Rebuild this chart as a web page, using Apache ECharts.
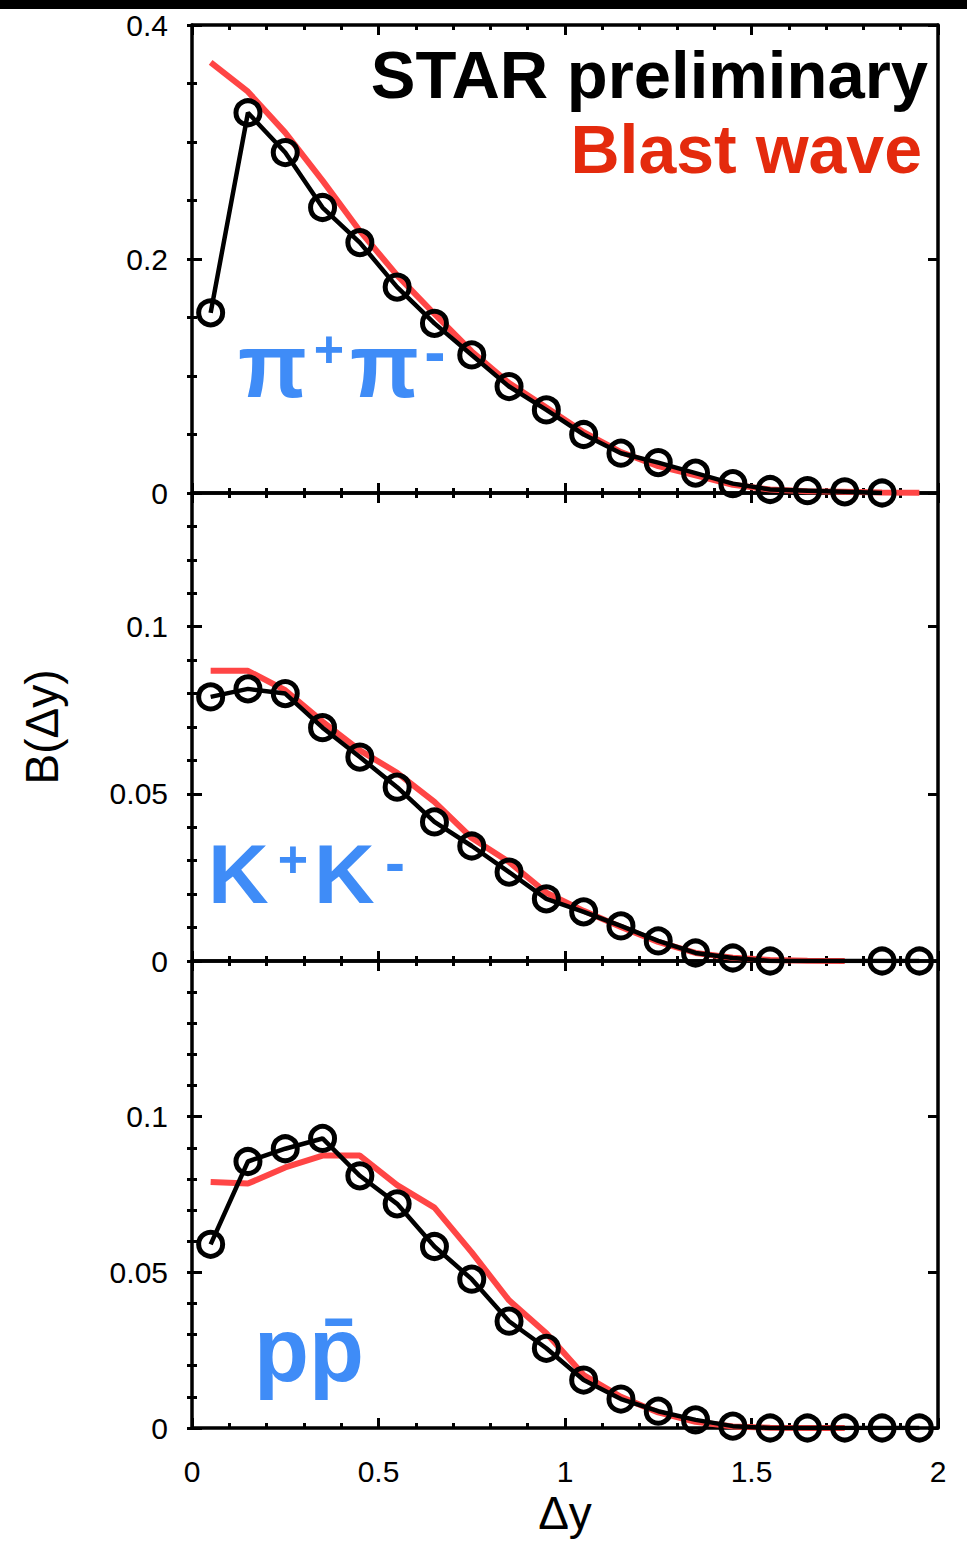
<!DOCTYPE html>
<html>
<head>
<meta charset="utf-8">
<script src="https://cdn.jsdelivr.net/npm/echarts@6/dist/echarts.min.js"></script>
<style>
  html, body { margin: 0; padding: 0; background: #fff; }
  #chart { width: 967px; height: 1543px; }
</style>
</head>
<body>
<div id="chart"></div>
<script>
  // Δy bin centres
  var dy = [0.05, 0.15, 0.25, 0.35, 0.45, 0.55, 0.65, 0.75, 0.85, 0.95,
            1.05, 1.15, 1.25, 1.35, 1.45, 1.55, 1.65, 1.75, 1.85, 1.95];

  // pi+ pi-
  var piData  = [0.154, 0.325, 0.291, 0.244, 0.214, 0.176, 0.145, 0.118, 0.091, 0.071,
                 0.050, 0.034, 0.026, 0.017, 0.008, 0.003, 0.002, 0.001, 0.000, null];
  var piBlast = [0.368, 0.343, 0.308, 0.267, 0.224, 0.186, 0.153, 0.121, 0.094, 0.073,
                 0.052, 0.035, 0.023, 0.015, 0.007, 0.003, 0.0015, 0.001, 0.0005, 0.0002];

  // K+ K-
  var kData   = [0.079, 0.0814, 0.080, 0.0698, 0.061, 0.052, 0.0416, 0.0344, 0.0266, 0.0186,
                 0.0147, 0.0105, 0.006, 0.0024, 0.0009, 0.0, null, null, 0.0, 0.0];
  var kBlast  = [0.0868, 0.0868, 0.081, 0.0716, 0.063, 0.0563, 0.0476, 0.0368, 0.0296, 0.0204,
                 0.015, 0.0102, 0.0057, 0.0024, 0.001, 0.0003, 0.0001, 0.0, null, null];

  // p pbar
  var pData   = [0.059, 0.0856, 0.0897, 0.093, 0.081, 0.072, 0.0583, 0.0478, 0.0343, 0.0256,
                 0.0154, 0.0093, 0.0054, 0.0026, 0.0006, 0.0, 0.0, 0.0, 0.0, 0.0];
  var pBlast  = [0.079, 0.0785, 0.0837, 0.0875, 0.0875, 0.078, 0.0708, 0.0564, 0.041, 0.0304,
                 0.017, 0.010, 0.005, 0.002, 0.0005, 0.0001, 0.0, 0.0, null, null];

  // y axis ranges per panel: [max, label interval, minor step, show max label]
  var yRanges = [[0.4, 0.2, 0.05, true], [0.14, 0.05, 0.01, false], [0.15, 0.05, 0.01, false]];
  var xTicks = [0, 2, 0.5];

  var FONT = 'Liberation Sans, Arial, Helvetica, sans-serif';
  var BLUE = '#3f8cf7';

  function pairs(ys) {
    return dy.map(function (x, i) { return [x, ys[i]]; });
  }

  var grids = [
    { left: 192, width: 746, top: 25, height: 468 },
    { left: 192, width: 746, top: 493, height: 468 },
    { left: 192, width: 746, top: 961, height: 467 }
  ];

  var xAxes = [];
  var yAxes = [];
  grids.forEach(function (g, gi) {
    ['bottom', 'top'].forEach(function (pos) {
      xAxes.push({
        type: 'value', gridIndex: gi, position: pos,
        min: xTicks[0], max: xTicks[1], interval: xTicks[2],
        axisLine: { show: true, onZero: false, lineStyle: { color: '#000', width: 3.5 } },
        axisTick: { show: true, inside: true, length: 10, lineStyle: { color: '#000', width: 3 } },
        minorTick: { show: true, splitNumber: 5, length: 5, lineStyle: { color: '#000', width: 3 } },
        axisLabel: {
          show: gi === 2 && pos === 'bottom', margin: 28,
          color: '#000', fontSize: 30, fontFamily: FONT
        },
        splitLine: { show: false }
      });
    });
    var r = yRanges[gi];
    ['left', 'right'].forEach(function (pos) {
      // major ticks (+ labels on the left)
      yAxes.push({
        type: 'value', gridIndex: gi, position: pos,
        min: 0, max: r[0], interval: r[1],
        axisLine: { show: true, onZero: false, lineStyle: { color: '#000', width: 3.5 } },
        axisTick: { show: true, inside: true, length: 10, lineStyle: { color: '#000', width: 3 } },
        axisLabel: {
          show: pos === 'left', margin: 24, showMaxLabel: r[3],
          color: '#000', fontSize: 30, fontFamily: FONT
        },
        splitLine: { show: false }
      });
      // minor ticks
      yAxes.push({
        type: 'value', gridIndex: gi, position: pos,
        min: 0, max: r[0], interval: r[2],
        axisLine: { show: false },
        axisTick: { show: true, inside: true, length: 5, lineStyle: { color: '#000', width: 3 } },
        axisLabel: { show: false },
        splitLine: { show: false }
      });
    });
  });

  function blast(gi, ys) {
    return {
      type: 'line', xAxisIndex: gi * 2, yAxisIndex: gi * 4,
      data: pairs(ys), symbol: 'none', z: 2,
      lineStyle: { color: '#ff4545', width: 6 }
    };
  }
  function star(gi, ys) {
    return {
      type: 'line', xAxisIndex: gi * 2, yAxisIndex: gi * 4,
      data: pairs(ys), symbol: 'circle', symbolSize: 24, showAllSymbol: true,
      connectNulls: true, z: 3,
      lineStyle: { color: '#000', width: 4.5 },
      itemStyle: { color: 'rgba(0,0,0,0)', borderColor: '#000', borderWidth: 5 }
    };
  }

  function txt(s, x, y, size, color, align, bold, rot) {
    return {
      type: 'text', x: x, y: y, rotation: rot || 0, z: 10,
      style: {
        text: s, fill: color, align: align, verticalAlign: 'middle',
        font: (bold ? 'bold ' : '') + size + 'px ' + FONT
      }
    };
  }

  var chart = echarts.init(document.getElementById('chart'), null, { renderer: 'svg' });
  chart.setOption({
    animation: false,
    backgroundColor: '#fff',
    grid: grids,
    xAxis: xAxes,
    yAxis: yAxes,
    series: [
      blast(0, piBlast), star(0, piData),
      blast(1, kBlast), star(1, kData),
      blast(2, pBlast), star(2, pData)
    ],
    graphic: [
      { type: 'rect', shape: { x: 0, y: 0, width: 967, height: 9 }, style: { fill: '#000' } },
      txt('STAR preliminary', 928, 74, 67, '#000', 'right', true),
      txt('Blast wave', 922, 149, 68, '#e42a0d', 'right', true),
      txt('π', 238, 366, 90, BLUE, 'left', true),
      txt('+', 329, 349, 52, BLUE, 'center', true),
      txt('π', 350, 366, 90, BLUE, 'left', true),
      txt('-', 435, 352, 64, BLUE, 'center', true),
      txt('K', 208, 874, 84, BLUE, 'left', true),
      txt('+', 293, 859, 52, BLUE, 'center', true),
      txt('K', 314, 874, 84, BLUE, 'left', true),
      txt('-', 395, 862, 60, BLUE, 'center', true),
      txt('pp̄', 254, 1350, 90, BLUE, 'left', true),
      txt('B(Δy)', 42, 727, 46, '#000', 'center', false, Math.PI / 2),
      txt('Δy', 565, 1513, 46, '#000', 'center', false)
    ]
  });
</script>
</body>
</html>
